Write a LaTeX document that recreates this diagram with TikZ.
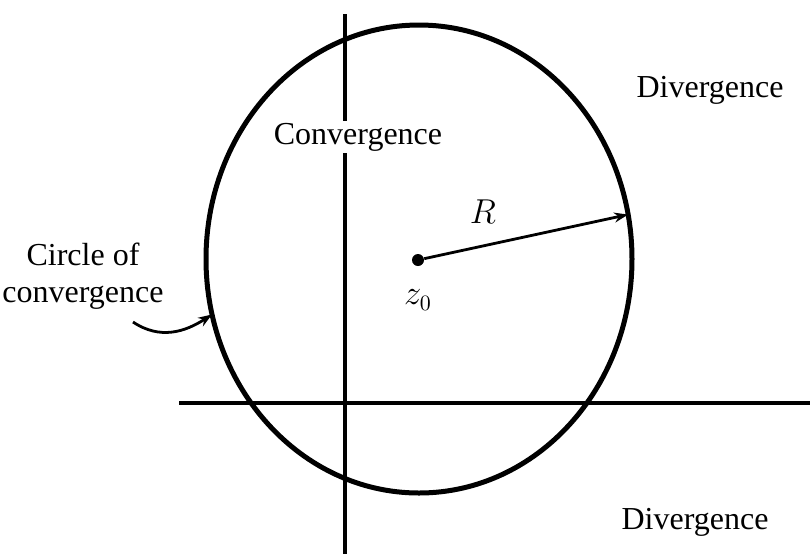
\documentclass[tikz,border=0pt]{standalone}
\usepackage{fontspec}
\setmainfont{Liberation Serif}
\usetikzlibrary{arrows.meta,shapes.geometric}

\begin{document}
\begin{tikzpicture}[x=0.5pt,y=-0.5pt,
  every node/.style={font=\fontsize{16}{18.5}\selectfont},
  axis/.style={line width=1.6pt},
  pointer/.style={line width=1.4pt,-{Stealth[length=7pt,width=5pt]}}]
\useasboundingbox (0,0) rectangle (810,554);
% axes
\draw[axis] (179,403) -- (810,403);
\draw[axis] (345,14) -- (345,554);
% circle of convergence
\node[draw,ellipse,line width=2.5pt,inner sep=0pt,outer sep=0pt,
  minimum width=213pt,minimum height=234pt] (disk) at (419,259) {};
\node[circle,fill,inner sep=0pt,minimum size=6pt] (z0) at (418,260) {};
\node (z0lbl) at (418,300) {$z_0$};
\node (rlbl) at (483,212) {$R$};
\draw[pointer] (z0) -- (disk.12);
% labels
\node[fill=white,inner sep=1pt] (conv) at (358,137) {Convergence};
\node (divtop) at (710,90) {Divergence};
\node (divbot) at (695,522) {Divergence};
\node[align=center] (circlbl) at (83,276) {Circle of\\convergence};
\coordinate (tail) at (133,322);
\draw[pointer] (tail) .. controls (160,340) and (185,332) .. (disk.195);
\end{tikzpicture}
\end{document}
